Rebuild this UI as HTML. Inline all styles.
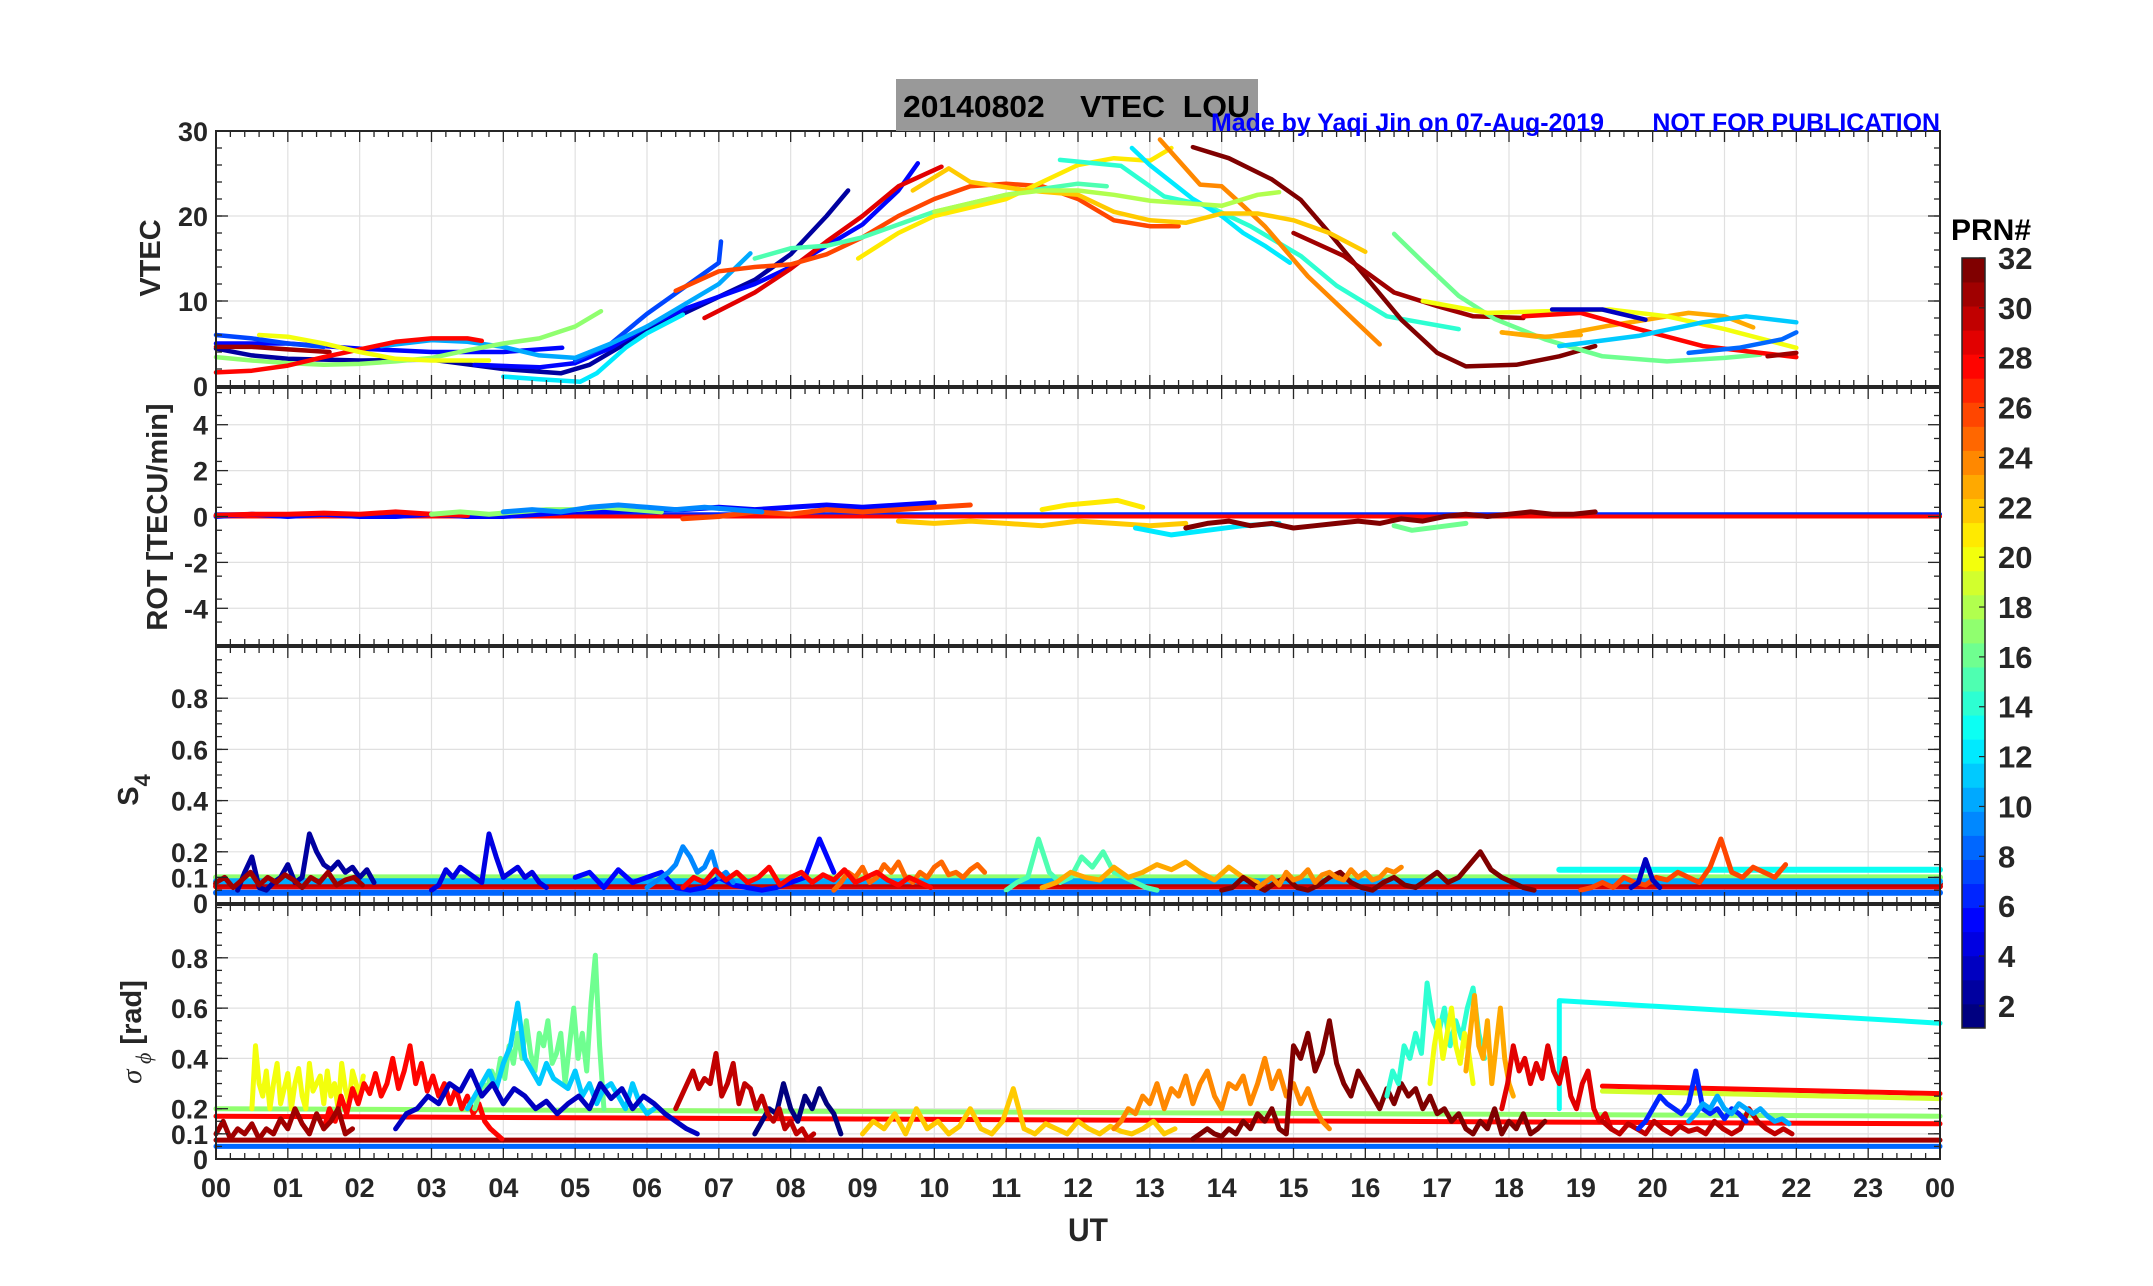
<!DOCTYPE html>
<html><head><meta charset="utf-8"><style>
html,body{margin:0;padding:0;background:#fff;}
svg{display:block;}
.tk{font-family:"Liberation Sans Narrow","Liberation Sans",sans-serif;font-weight:bold;font-size:27px;fill:#262626;}
.lab{font-family:"Liberation Sans",sans-serif;font-weight:bold;font-size:29px;fill:#262626;}
.cb{font-family:"Liberation Sans",sans-serif;font-weight:900;font-size:31px;fill:#262626;}
</style></head><body>
<svg id="fig" xmlns="http://www.w3.org/2000/svg" width="2153" height="1286" viewBox="0 0 2153 1286">
<rect width="2153" height="1286" fill="#fff"/>
<g id="grid"></g>
<g id="series"></g>
<g id="axes"></g>
<rect x="896" y="79" width="362" height="52" fill="#999999"/>
<text x="903" y="117" class="tk" style="font-size:31px;fill:#000" textLength="347" lengthAdjust="spacingAndGlyphs" xml:space="preserve">20140802    VTEC  LOU</text>
<text x="1211" y="131" class="tk" style="font-size:25px;fill:#0000ff" textLength="729" lengthAdjust="spacingAndGlyphs" xml:space="preserve">Made by Yaqi Jin on 07-Aug-2019       NOT FOR PUBLICATION</text>
<text transform="translate(160,258) rotate(-90)" text-anchor="middle" class="lab">VTEC</text>
<text transform="translate(167,517) rotate(-90)" text-anchor="middle" class="lab">ROT [TECU/min]</text>
<text transform="translate(138,790) rotate(-90)" text-anchor="middle" class="lab">S<tspan dy="12" font-size="22">4</tspan></text>
<text transform="translate(141,1032) rotate(-90)" text-anchor="middle" class="lab"><tspan font-family="Liberation Serif" font-style="italic" font-weight="normal">σ</tspan><tspan dy="10" font-size="22" font-family="Liberation Serif" font-style="italic" font-weight="normal"> ϕ</tspan><tspan dy="-10"> [rad]</tspan></text>
<text x="1068" y="1241" class="lab" style="font-size:32px" textLength="40" lengthAdjust="spacingAndGlyphs">UT</text>
<text x="1951" y="240" class="cb" style="fill:#000;font-size:30px">PRN#</text>
<g id="cbar"></g>
</svg>
<script>
// ---------- data ----------
const hourLabels=["00","01","02","03","04","05","06","07","08","09","10","11","12","13","14","15","16","17","18","19","20","21","22","23","00"];
const vtecTicks=[0,10,20,30];
const rotTicks=[-4,-2,0,2,4];
const s4Ticks=[0,0.1,0.2,0.4,0.6,0.8];
const sigTicks=[0,0.1,0.2,0.4,0.6,0.8];
const cbTicks=[2,4,6,8,10,12,14,16,18,20,22,24,26,28,30,32];

const vtecPRN=[2,5,5,7,7,10,12,17,31,28,20,29,26,15,21,14,12,24,32,31,23,22,18,16,23,20,28,3,11,8,31];
const vtecPts=[
[[0,4.4],[0.5,3.6],[1,3.2],[2,3],[3,3.1],[4,2],[4.8,1.5],[5.2,2.5],[5.6,4.5],[6,6.5],[6.5,8.5],[7,10.5],[7.5,12.5],[8,15.5],[8.5,20],[8.8,23]],
[[0,5],[1,5],[2,4.4],[3,4],[4,4],[4.82,4.5]],
[[3.6,2.5],[4.5,2.2],[5,2.7],[5.5,4.5],[6,7],[6.5,9],[7,10.5],[7.5,12],[8,14],[8.5,16.5],[9,19],[9.5,23],[9.77,26.2]],
[[0,6],[0.5,5.6],[1,5],[1.5,4.6]],
[[5,3],[5.5,5],[6,8.5],[6.5,11.5],[7,14.5],[7.03,17]],
[[2.3,4.7],[3,5.4],[3.5,5.2],[4,4.6],[4.5,3.6],[5,3.3],[5.5,5],[6,7],[6.5,9.5],[7,12],[7.44,15.6]],
[[4,1.1],[4.5,0.8],[5.07,0.5],[5.3,1.5],[5.7,4.5],[6,6.2],[6.5,8.4]],
[[0,3.4],[0.5,3],[1,2.7],[1.5,2.5],[2,2.6],[2.5,2.9],[3,3.3],[3.5,4.2],[4,5],[4.5,5.6],[5,7],[5.36,8.8]],
[[0,4.6],[0.5,4.6],[1,4.3],[1.58,4]],
[[0,1.6],[0.5,1.8],[1,2.4],[1.5,3.4],[2,4.3],[2.5,5.2],[3,5.6],[3.5,5.6],[3.7,5.3]],
[[0.6,6],[1,5.8],[1.5,5],[2,4],[2.5,3.2],[3,3],[3.8,3]],
[[6.8,8],[7.5,11],[8,13.8],[8.5,17],[9,20],[9.5,23.5],[10.1,25.8]],
[[6.4,11.2],[7,13.5],[7.5,14],[8,14.3],[8.5,15.5],[9,17.5],[9.5,20],[10,22],[10.5,23.5],[11,23.8],[11.5,23.5],[12,22],[12.5,19.5],[13,18.8],[13.4,18.8]],
[[7.5,15],[8,16.2],[8.5,16.5],[9,17.5],[9.5,19],[10,20.5],[10.5,21.5],[11,22.5],[11.5,23.2],[12,23.8],[12.4,23.5]],
[[8.94,15],[9.5,18],[10,20],[10.5,21],[11,22],[11.5,24],[12,26],[12.5,26.8],[13,26.5],[13.3,28]],
[[11.75,26.6],[12.6,25.9],[13.2,22.3],[13.8,21.2],[14.4,18.8],[15.1,15.3],[15.6,11.8],[16.3,8.2],[17.3,6.7]],
[[12.75,28],[13,26],[13.3,24],[13.6,22],[14,20],[14.3,18],[14.6,16.5],[14.95,14.5]],
[[13.14,29],[13.7,23.7],[14,23.5],[14.3,21.2],[14.6,18.8],[15.2,12.9],[16.2,4.9]],
[[13.6,28.1],[14.1,26.8],[14.7,24.3],[15.1,21.9],[15.5,18],[16,12.9],[16.5,7.8],[17,3.9],[17.4,2.3],[18.1,2.5],[18.7,3.5],[19.2,4.7]],
[[15,18],[15.7,15.3],[16.4,11],[17,9.4],[17.5,8.2],[18.2,8]],
[[17.9,6.3],[18.5,5.7],[19.4,7.1],[20.5,8.6],[21,8.2],[21.4,6.9]],
[[9.7,23],[10.2,25.6],[10.5,24],[11.3,23],[12,22.5],[12.5,20.5],[13,19.5],[13.5,19.2],[14,20.3],[14.5,20.3],[15,19.5],[15.5,18],[16,15.8]],
[[10,20.5],[10.5,21.5],[11,22.5],[11.5,23],[12,23],[12.5,22.5],[13,21.8],[13.5,21.5],[14,21.2],[14.5,22.5],[14.8,22.8]],
[[16.4,17.9],[16.8,14.6],[17.3,10.6],[17.8,7.9],[18.5,5.5],[19.3,3.5],[20.2,2.9],[21,3.3],[21.5,3.7]],
[[17.9,6.3],[18.5,5.8],[19,6]],
[[16.8,10],[17.7,8.6],[19.4,9],[20.2,8.2],[21,6.7],[22,4.5]],
[[18.2,8.2],[19,8.6],[19.8,6.7],[20.7,4.7],[21.5,3.9],[22,3.4]],
[[18.6,9],[19.3,9],[19.9,7.8]],
[[18.7,4.7],[19.8,5.9],[20.7,7.5],[21.3,8.2],[22,7.5]],
[[20.5,3.9],[21.2,4.5],[21.8,5.5],[22,6.3]],
[[21.6,3.5],[22,3.9]]
];

const rotPRN=[5,28,26,22,12,21,32,16,17,9];
const rotStart=[0,0,6.5,9.5,12.8,11.5,13.5,16.4,3,4];
const rotStep=[0.5,0.5,0.5,0.5,0.5,0.35,0.3,0.25,0.4,0.4];
const rotVals=[
[0,0.1,0,0.1,0,0,0.1,0,0,0.1,0.2,0.2,0.3,0.3,0.4,0.3,0.4,0.5,0.4,0.5,0.6],
[0.05,0.1,0.1,0.15,0.1,0.2,0.1,0.05],
[-0.1,0,0.2,0.1,0.3,0.2,0.3,0.4,0.5],
[-0.2,-0.3,-0.2,-0.3,-0.4,-0.2,-0.3,-0.4,-0.3],
[-0.5,-0.8,-0.6,-0.4,-0.3],
[0.3,0.5,0.6,0.7,0.4],
[-0.5,-0.3,-0.2,-0.4,-0.3,-0.5,-0.4,-0.3,-0.2,-0.3,-0.1,-0.2,0,0.1,0,0.1,0.2,0.1,0.1,0.2],
[-0.4,-0.6,-0.5,-0.4,-0.3],
[0.1,0.2,0.1,0.2,0.3,0.3,0.4,0.3,0.2],
[0.2,0.3,0.2,0.4,0.5,0.4,0.3,0.4,0.3,0.2]
];
const rotLinePRN=[6,28];
const rotLineVal=[0.1,0];

const s4LinePRN=[17,8,29,30,13,10];
const s4LineFrom=[0,0,0,0,18.7,0];
const s4LineTo=[24,24,24,24,24,24];
const s4LineVal=[0.1,0.04,0.065,0.075,0.13,0.085];
const s4PRN=[2,4,5,9,15,23,25,28,32,24,26,3,31];
const s4Start=[0.3,3,5,6,11,11.5,8.6,6.5,14,14.5,19,19.7,0];
const s4Step=[0.1,0.1,0.2,0.1,0.15,0.2,0.1,0.15,0.15,0.1,0.15,0.1,0.12];
const s4Vals=[
[0.05,0.12,0.18,0.06,0.05,0.08,0.1,0.15,0.08,0.1,0.27,0.2,0.15,0.13,0.16,0.12,0.14,0.1,0.13,0.08],
[0.05,0.07,0.13,0.1,0.14,0.12,0.1,0.08,0.27,0.18,0.1,0.12,0.14,0.1,0.12,0.08,0.06],
[0.1,0.12,0.06,0.13,0.08,0.1,0.12,0.06,0.05,0.06,0.1,0.07,0.06,0.05,0.06,0.08,0.1,0.25,0.12],
[0.06,0.08,0.1,0.12,0.15,0.22,0.18,0.12,0.14,0.2,0.1,0.12,0.08],
[0.05,0.08,0.1,0.25,0.12,0.08,0.1,0.18,0.14,0.2,0.12,0.1,0.08,0.06,0.05],
[0.06,0.08,0.12,0.1,0.09,0.14,0.1,0.12,0.15,0.13,0.16,0.12,0.09,0.14,0.1,0.08],
[0.05,0.08,0.12,0.1,0.14,0.08,0.1,0.15,0.12,0.16,0.1,0.08,0.12,0.1,0.14,0.16,0.11,0.12,0.1,0.13,0.15,0.12],
[0.06,0.1,0.08,0.13,0.09,0.12,0.08,0.1,0.14,0.07,0.1,0.12,0.08,0.11,0.09,0.13,0.08,0.1,0.12,0.09,0.07,0.1,0.08,0.06],
[0.05,0.06,0.1,0.07,0.05,0.08,0.1,0.06,0.05,0.07,0.1,0.12,0.08,0.06,0.05,0.08,0.1,0.07,0.06,0.09,0.12,0.08,0.1,0.15,0.2,0.13,0.1,0.08,0.06,0.05],
[0.06,0.08,0.1,0.07,0.12,0.09,0.1,0.13,0.08,0.11,0.12,0.1,0.09,0.13,0.1,0.12,0.09,0.1,0.13,0.12,0.14],
[0.05,0.06,0.08,0.06,0.1,0.08,0.07,0.1,0.09,0.12,0.1,0.08,0.14,0.25,0.12,0.1,0.14,0.12,0.1,0.15],
[0.06,0.08,0.17,0.09,0.06],
[0.08,0.1,0.06,0.09,0.12,0.07,0.1,0.08,0.11,0.09,0.06,0.1,0.08,0.12,0.07,0.09,0.1,0.07]
];

const sigLinePRN=[17,28,31,8,13,28,19];
const sigLineFrom=[0,0,0,0,18.7,19.3,19.3];
const sigLineTo=[24,24,24,24,24,24,24];
const sigLineV0=[0.2,0.17,0.075,0.05,0.63,0.29,0.27];
const sigLineV1=[0.17,0.14,0.075,0.05,0.54,0.26,0.24];
const sigPRN=[20,28,16,11,3,1,30,31,22,24,32,14,20,23,29,30,6,10];
const sigStart=[0.5,1.5,3.6,3.5,2.5,7.5,6.4,0,9,12.5,13.6,16.3,16.9,17.4,17.9,19.3,19.8,20.5];
const sigStep=[0.05,0.08,0.06,0.1,0.15,0.1,0.08,0.1,0.15,0.1,0.1,0.08,0.06,0.06,0.08,0.12,0.1,0.1];
const sigVals=[
[0.2,0.45,0.3,0.25,0.35,0.2,0.3,0.38,0.22,0.28,0.34,0.2,0.3,0.36,0.25,0.2,0.38,0.27,0.3,0.33,0.22,0.35,0.25,0.3,0.2,0.38,0.28,0.22,0.35,0.3,0.25,0.33],
[0.12,0.2,0.15,0.25,0.18,0.28,0.22,0.3,0.26,0.34,0.25,0.3,0.4,0.28,0.35,0.45,0.3,0.38,0.27,0.33,0.25,0.3,0.22,0.28,0.2,0.25,0.18,0.22,0.15,0.12,0.1,0.08],
[0.2,0.25,0.3,0.28,0.35,0.3,0.4,0.32,0.45,0.38,0.5,0.4,0.55,0.42,0.35,0.5,0.45,0.55,0.38,0.42,0.5,0.3,0.45,0.6,0.4,0.5,0.35,0.62,0.81,0.45,0.2],
[0.2,0.25,0.3,0.35,0.28,0.38,0.45,0.62,0.4,0.35,0.3,0.38,0.32,0.3,0.28,0.35,0.25,0.3,0.22,0.28,0.3,0.25,0.2,0.3,0.22,0.18,0.2],
[0.12,0.18,0.2,0.25,0.22,0.3,0.27,0.35,0.25,0.3,0.22,0.28,0.25,0.2,0.23,0.18,0.22,0.25,0.2,0.3,0.24,0.28,0.2,0.25,0.22,0.18,0.15,0.12,0.1],
[0.1,0.15,0.2,0.18,0.3,0.2,0.15,0.25,0.2,0.28,0.22,0.18,0.1],
[0.2,0.25,0.3,0.35,0.28,0.32,0.3,0.42,0.25,0.3,0.38,0.22,0.3,0.28,0.2,0.25,0.18,0.15,0.2,0.12,0.15,0.1,0.12,0.08,0.1],
[0.1,0.15,0.08,0.12,0.1,0.14,0.08,0.12,0.1,0.16,0.12,0.2,0.14,0.1,0.18,0.12,0.15,0.2,0.1,0.12],
[0.1,0.15,0.12,0.18,0.1,0.2,0.12,0.15,0.1,0.13,0.2,0.12,0.1,0.15,0.28,0.12,0.1,0.14,0.12,0.1,0.15,0.12,0.1,0.13,0.11,0.1,0.12,0.15,0.1,0.12],
[0.12,0.15,0.2,0.18,0.25,0.22,0.3,0.2,0.28,0.25,0.33,0.22,0.3,0.35,0.25,0.2,0.3,0.28,0.33,0.22,0.3,0.4,0.28,0.35,0.25,0.3,0.22,0.28,0.2,0.15,0.12],
[0.08,0.1,0.12,0.1,0.09,0.12,0.1,0.15,0.12,0.18,0.15,0.2,0.12,0.1,0.45,0.4,0.5,0.35,0.42,0.55,0.38,0.3,0.25,0.35,0.3,0.25,0.2,0.28,0.22,0.3,0.25,0.28,0.2,0.25,0.18,0.2,0.15,0.18,0.12,0.1,0.15,0.12,0.2,0.1,0.15,0.12,0.18,0.1,0.12,0.15],
[0.25,0.35,0.3,0.45,0.4,0.5,0.42,0.7,0.55,0.5,0.6,0.45,0.55,0.48,0.6,0.68,0.5,0.4],
[0.3,0.45,0.55,0.4,0.5,0.6,0.45,0.38,0.5,0.42,0.3],
[0.35,0.5,0.65,0.45,0.4,0.55,0.3,0.45,0.6,0.4,0.3,0.25],
[0.2,0.3,0.45,0.35,0.4,0.3,0.38,0.32,0.45,0.35,0.3,0.4,0.25,0.2,0.3,0.35,0.2,0.15,0.18,0.12],
[0.15,0.12,0.1,0.14,0.12,0.1,0.15,0.12,0.1,0.13,0.11,0.12,0.1,0.15,0.12,0.1,0.12,0.2,0.15,0.12,0.1,0.12,0.1],
[0.12,0.15,0.2,0.25,0.22,0.2,0.18,0.22,0.35,0.2,0.18,0.2,0.16,0.2,0.18,0.15],
[0.15,0.18,0.22,0.2,0.25,0.2,0.18,0.22,0.2,0.18,0.2,0.17,0.15,0.16,0.14]
];

// ---------- layout ----------
const NS="http://www.w3.org/2000/svg";
const XL=216, XR=1940;
const X=h=>XL+h/24*(XR-XL);
const panels=[
 {name:"vtec",top:131,bot:386,min:0,max:30,ticks:vtecTicks,minor:2},
 {name:"rot",top:388,bot:645,min:-5.6,max:5.6,ticks:rotTicks,minor:1},
 {name:"s4",top:647,bot:903,min:0,max:1.0,ticks:s4Ticks,minor:0.05},
 {name:"sigma",top:905,bot:1159,min:0,max:1.01,ticks:sigTicks,minor:0.05}
];
const Y=(p,v)=>p.bot-(v-p.min)/(p.max-p.min)*(p.bot-p.top);
function jet(prn){
 const t=(prn-1)/31;
 const c=x=>Math.round(255*Math.max(0,Math.min(1,1.5-Math.abs(x))));
 return `rgb(${c(4*t-3)},${c(4*t-2)},${c(4*t-1)})`;
}
function mk(tag,attrs,parent){const e=document.createElementNS(NS,tag);for(const k in attrs)e.setAttribute(k,attrs[k]);parent.appendChild(e);return e;}
function tlen(s){let w=0;for(const ch of s){w+=(ch==='.')?7:(ch==='-')?9:15;}return w;}
const G=document.getElementById("grid"),S=document.getElementById("series"),A=document.getElementById("axes"),CB=document.getElementById("cbar");

panels.forEach(p=>{
 for(let h=1;h<24;h++){const l=mk("line",{x1:X(h),x2:X(h),y1:p.top,y2:p.bot,stroke:"#e0e0e0","stroke-width":1.2},G);
  
  }
 p.ticks.forEach(v=>{if(v===p.min)return;const l=mk("line",{x1:XL,x2:XR,y1:Y(p,v),y2:Y(p,v),stroke:"#e0e0e0","stroke-width":1.2},G);
  
  });
});

function poly(pts,color,w,name){
 const e=mk("polyline",{points:pts.map(q=>q[0].toFixed(1)+","+q[1].toFixed(1)).join(" "),fill:"none",stroke:color,"stroke-width":w,"stroke-linejoin":"round","stroke-linecap":"round"},S);
 
 
 return e;
}
const pV=panels[0],pR=panels[1],pS=panels[2],pG=panels[3];
vtecPts.forEach((arr,i)=>poly(arr.map(q=>[X(q[0]),Y(pV,q[1])]),jet(vtecPRN[i]),4.5,"vtec-prn-"+vtecPRN[i]));
rotLinePRN.forEach((prn,i)=>poly([[X(0),Y(pR,rotLineVal[i])],[X(24),Y(pR,rotLineVal[i])]],jet(prn),4,"rot-baseline-prn-"+prn));
function noisy(p,prns,st,sp,vals,w,pre){
 vals.forEach((arr,i)=>poly(arr.map((v,j)=>[X(st[i]+j*sp[i]),Y(p,v)]),jet(prns[i]),w,pre+prns[i]));
}
noisy(pR,rotPRN,rotStart,rotStep,rotVals,5,"rot-prn-");
s4LinePRN.forEach((prn,i)=>poly([[X(s4LineFrom[i]),Y(pS,s4LineVal[i])],[X(s4LineTo[i]),Y(pS,s4LineVal[i])]],jet(prn),6,"s4-baseline-prn-"+prn));
noisy(pS,s4PRN,s4Start,s4Step,s4Vals,5,"s4-prn-");
sigLinePRN.forEach((prn,i)=>{
 const pts=[[X(sigLineFrom[i]),Y(pG,sigLineV0[i])],[X(sigLineTo[i]),Y(pG,sigLineV1[i])]];
 if(prn===13) pts.unshift([X(sigLineFrom[i]),Y(pG,0.2)]);
 poly(pts,jet(prn),5,"sigma-baseline-prn-"+prn);
});
noisy(pG,sigPRN,sigStart,sigStep,sigVals,5,"sigma-prn-");

panels.forEach(p=>{
 const r=mk("rect",{x:XL,y:p.top,width:XR-XL,height:p.bot-p.top,fill:"none",stroke:"#262626","stroke-width":2},A);
 
 
 for(let k=0;k<=120;k++){
  const h=k/5,maj=k%5===0,L=maj?11:6,x=X(h);
  mk("line",{x1:x,x2:x,y1:p.top,y2:p.top+L,stroke:"#262626","stroke-width":1.3},A);
  mk("line",{x1:x,x2:x,y1:p.bot,y2:p.bot-L,stroke:"#262626","stroke-width":1.3},A);
 }
 for(let v=p.min;v<=p.max+1e-9;v+=p.minor){
  const y=Y(p,Math.round(v*1000)/1000);
  mk("line",{x1:XL,x2:XL+6,y1:y,y2:y,stroke:"#262626","stroke-width":1.3},A);
  mk("line",{x1:XR,x2:XR-6,y1:y,y2:y,stroke:"#262626","stroke-width":1.3},A);
 }
 p.ticks.forEach(v=>{
  const y=Y(p,v);
  mk("line",{x1:XL,x2:XL+12,y1:y,y2:y,stroke:"#262626","stroke-width":1.3},A);
  mk("line",{x1:XR,x2:XR-12,y1:y,y2:y,stroke:"#262626","stroke-width":1.3},A);
  const s=String(v);
  const t=mk("text",{x:XL-8-tlen(s),y:y+10,class:"tk",textLength:tlen(s),lengthAdjust:"spacingAndGlyphs"},A);
  t.textContent=s;
  
  
 });
});
hourLabels.forEach((s,i)=>{
 const t=mk("text",{x:X(i)-15,y:1197,class:"tk",textLength:30,lengthAdjust:"spacingAndGlyphs"},A);
 t.textContent=s;
 
 
});

// colorbar
const CT=258,CBt=1028,CX=1962,CW=23;
const seg=(CBt-CT)/32;
for(let k=1;k<=32;k++){
 const r=mk("rect",{x:CX,y:CT+(32-k)*seg-0.4,width:CW,height:seg+0.8,fill:jet(k)},CB);
 
 
}
const cf=mk("rect",{x:CX,y:CT,width:CW,height:CBt-CT,fill:"none",stroke:"#262626","stroke-width":1.5},CB);


const CY=v=>CT+(32-v)*24.93;
cbTicks.forEach(v=>{
 mk("line",{x1:CX+CW-6,x2:CX+CW,y1:CY(v),y2:CY(v),stroke:"#262626","stroke-width":1.2},CB);
 const t=mk("text",{x:1998,y:CY(v)+11,class:"cb"},CB);
 t.textContent=String(v);
 
 
});
</script>
</body></html>
